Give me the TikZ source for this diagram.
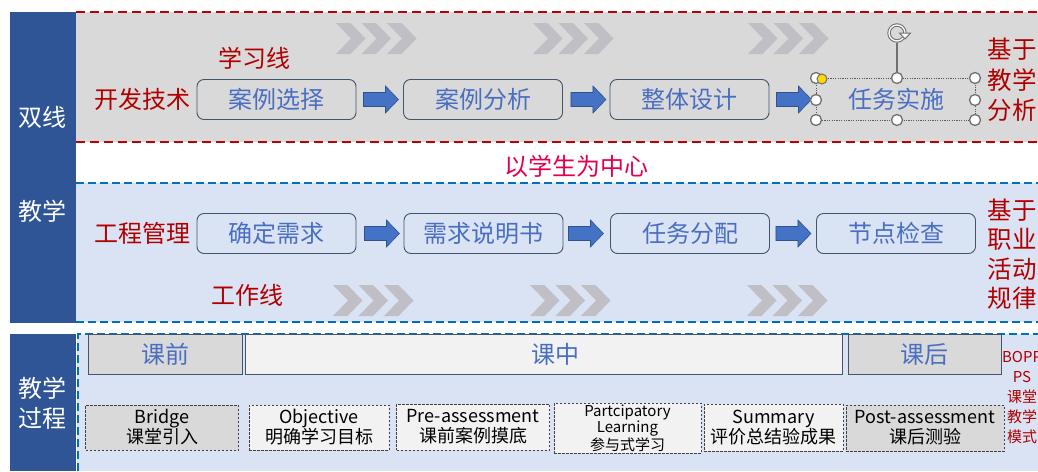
\documentclass[tikz,border=0pt]{standalone}
\usepackage{fontspec}
\setmainfont{Noto Sans CJK SC}
\usetikzlibrary{calc}
\definecolor{bandblue}{HTML}{2F5597}
\definecolor{bandgray}{HTML}{D9D9D9}
\definecolor{bandlight}{HTML}{DAE3F3}
\definecolor{darkred}{HTML}{B00000}
\definecolor{crimson}{HTML}{E6004C}
\definecolor{boxblue}{HTML}{4A6FC2}
\definecolor{boxline}{HTML}{44546A}
\definecolor{linered}{HTML}{C00000}
\definecolor{lineblue}{HTML}{0070C0}
\definecolor{chevgray}{HTML}{C0BFC6}
\definecolor{arrowfill}{HTML}{4472C4}
\definecolor{arrowline}{HTML}{2F528F}
\definecolor{handlegray}{HTML}{707070}
\definecolor{lightfill}{HTML}{F2F2F2}
\definecolor{dashgray}{HTML}{404040}
\definecolor{knob}{HTML}{FFD800}
\begin{document}
\begin{tikzpicture}[x=1pt,y=-1pt,
  sidelbl/.style={text=white, font=\fontsize{24}{30}\selectfont, align=center, inner sep=0},
  redlbl/.style={text=darkred, font=\fontsize{24}{30}\selectfont, inner sep=0},
  sidenote/.style={text=darkred, font=\fontsize{24.5}{30.5}\selectfont, align=center, inner sep=0},
  stepbox/.style={draw=boxline, line width=0.9pt, rounded corners=7pt, minimum width=159pt, minimum height=40pt, inner sep=0, text=boxblue, font=\fontsize{24}{30}\selectfont},
  phasebox/.style={draw=boxline, line width=0.9pt, minimum height=40pt, inner sep=0, text=boxblue, font=\fontsize{24}{30}\selectfont},
  stagebox/.style={draw=dashgray, dash pattern=on 2.5pt off 1.5pt, line width=0.8pt, inner sep=0, align=center, font=\fontsize{18}{20}\selectfont, text=black},
  redline/.style={draw=linered, line width=1.6pt, dash pattern=on 9pt off 5pt},
  blueline/.style={draw=lineblue, line width=1.8pt, dash pattern=on 8pt off 4pt},
  handle/.style={circle, draw=handlegray, fill=white, line width=1.3pt, minimum size=11pt, inner sep=0},
  barrow/.pic={\filldraw[fill=arrowfill, draw=arrowline, line width=0.6pt] (0,-7) -- (22,-7) -- (22,-13.5) -- (35,0) -- (22,13.5) -- (22,7) -- (0,7) -- cycle;},
  chevrons/.pic={\foreach \i in {0,1,2}{\fill[chevgray] (25.5*\i,0) -- ++(14.5,0) -- ++(15,15.5) -- ++(-15,15.5) -- ++(-14.5,0) -- ++(15,-15.5) -- cycle;}}
]
\useasboundingbox (0,0) rectangle (1038,471);
\fill[white] (0,0) rectangle (1038,471);
% bands
\fill[bandgray] (76,12) rectangle (1038,142);
\fill[bandlight] (76,183) rectangle (1038,322);
\fill[bandlight] (77,334) rectangle (1038,471);
\fill[bandblue] (10,12) rectangle (76,323);
\fill[bandblue] (10,334) rectangle (76,471);
\draw[redline] (76,12) -- (1038,12);
\draw[redline] (76,142) -- (1038,142);
\draw[blueline] (76,183) -- (1038,183);
\draw[blueline] (76,322) -- (1038,322);
\draw[blueline] (78,471) -- (78,334) -- (1038,334);

% chevrons
\pic at (336,23) {chevrons};
\pic at (533,23) {chevrons};
\pic at (748,23) {chevrons};
\pic at (333,285) {chevrons};
\pic at (530,285) {chevrons};
\pic at (747,285) {chevrons};

% side labels
\node[sidelbl] (s1) at (42,117) {双线};
\node[sidelbl] (s2) at (42,211) {教学};
\node[sidelbl] (s3) at (42,403) {教学\\过程};

% red labels
\node[redlbl] (learn) at (254,58) {学习线};
\node[redlbl] (dev) at (142,99) {开发技术};
\node[redlbl] (eng) at (142,233) {工程管理};
\node[redlbl] (work) at (247,295) {工作线};
\node[text=crimson, font=\fontsize{24}{30}\selectfont, inner sep=0] (center) at (576,166) {以学生为中心};
\node[sidenote] (basis1) at (1012,80) {基于\\教学\\分析};
\node[sidenote, font=\fontsize{24.5}{29.5}\selectfont] (basis2) at (1012,254) {基于\\职业\\活动\\规律};

% row 1
\node[stepbox] (a1) at (276.5,99.5) {案例选择};
\node[stepbox] (a2) at (483,99.5) {案例分析};
\node[stepbox] (a3) at (689.5,99.5) {整体设计};
\node[inner sep=0, text=boxblue, font=\fontsize{24}{30}\selectfont] (a4) at (896,99) {任务实施};
\pic at ($(a1.east)+(7,0)$) {barrow};
\pic at ($(a2.east)+(8,0)$) {barrow};
\pic at ($(a3.east)+(7,0)$) {barrow};

% selection frame of a4
\draw[handlegray!80!black, line width=0.9pt, dash pattern=on 1.2pt off 1.2pt] (816,78) rectangle (975,120);
\coordinate (rot) at (897,33);
\node[handle] (h2) at (897,78) {};
\draw[handlegray, line width=1.2pt] (h2) -- ($(rot)+(0,10)$);
\draw[handlegray, line width=3.4pt] ($(rot)+(40:8)$) arc[start angle=40, end angle=360, radius=8];
\draw[white, line width=1.3pt] ($(rot)+(40:8)$) arc[start angle=40, end angle=360, radius=8];
\filldraw[fill=white, draw=handlegray, line width=1pt] ($(rot)+(2.5,0)$) -- ($(rot)+(13.5,0)$) -- ($(rot)+(8,6)$) -- cycle;
\node[handle] (h1) at (816,78) {};
\node[handle] (h3) at (975,78) {};
\node[handle] (h4) at (816,100) {};
\node[handle] (h5) at (975,100) {};
\node[handle] (h6) at (816,120) {};
\node[handle] (h7) at (897,120) {};
\node[handle] (h8) at (975,120) {};
\node[circle, fill=knob, draw=handlegray, line width=1pt, minimum size=10pt, inner sep=0] (knob) at (822,79) {};

% row 2
\node[stepbox] (b1) at (276.5,233.5) {确定需求};
\node[stepbox] (b2) at (483.5,233.5) {需求说明书};
\node[stepbox] (b3) at (690,233.5) {任务分配};
\node[stepbox] (b4) at (896,233.5) {节点检查};
\pic at ($(b1.east)+(8,0)$) {barrow};
\pic at ($(b2.east)+(5,0)$) {barrow};
\pic at ($(b3.east)+(6,0)$) {barrow};

% phase boxes
\node[phasebox, fill=bandgray, minimum width=154pt] (pre) at (165,354.5) {课前};
\node[phasebox, fill=lightfill, minimum width=597pt] (mid) at (543.5,354.5) {};
\node[text=boxblue, font=\fontsize{24}{30}\selectfont, inner sep=0] (midtxt) at (555,354) {课中};
\node[phasebox, fill=bandgray, minimum width=153pt] (post) at (924.5,354.5) {课后};
\node[text=darkred, font=\fontsize{15}{20}\selectfont, align=center, inner sep=0] (bopp) at (1022,398) {BOPP\\PS\\课堂\\教学\\模式};

% stage boxes
\node[stagebox, fill=bandgray, minimum width=153pt, minimum height=45pt] (st1) at (162,427.5) {Bridge\\课堂引入};
\node[stagebox, fill=lightfill, minimum width=140pt, minimum height=45pt] (st2) at (319,427.5) {Objective\\明确学习目标};
\node[stagebox, fill=lightfill, minimum width=153pt, minimum height=46pt] (st3) at (473,427) {Pre-assessment\\课前案例摸底};
\node[stagebox, fill=lightfill, minimum width=147pt, minimum height=50pt, font=\fontsize{15}{15}\selectfont] (st4) at (627.5,428) {Partcipatory\\Learning\\参与式学习};
\node[stagebox, fill=lightfill, minimum width=139pt, minimum height=47pt] (st5) at (773.5,427.5) {Summary\\评价总结验成果};
\node[stagebox, fill=bandgray, minimum width=158pt, minimum height=46pt] (st6) at (925,428) {Post-assessment\\课后测验};
\end{tikzpicture}
\end{document}
